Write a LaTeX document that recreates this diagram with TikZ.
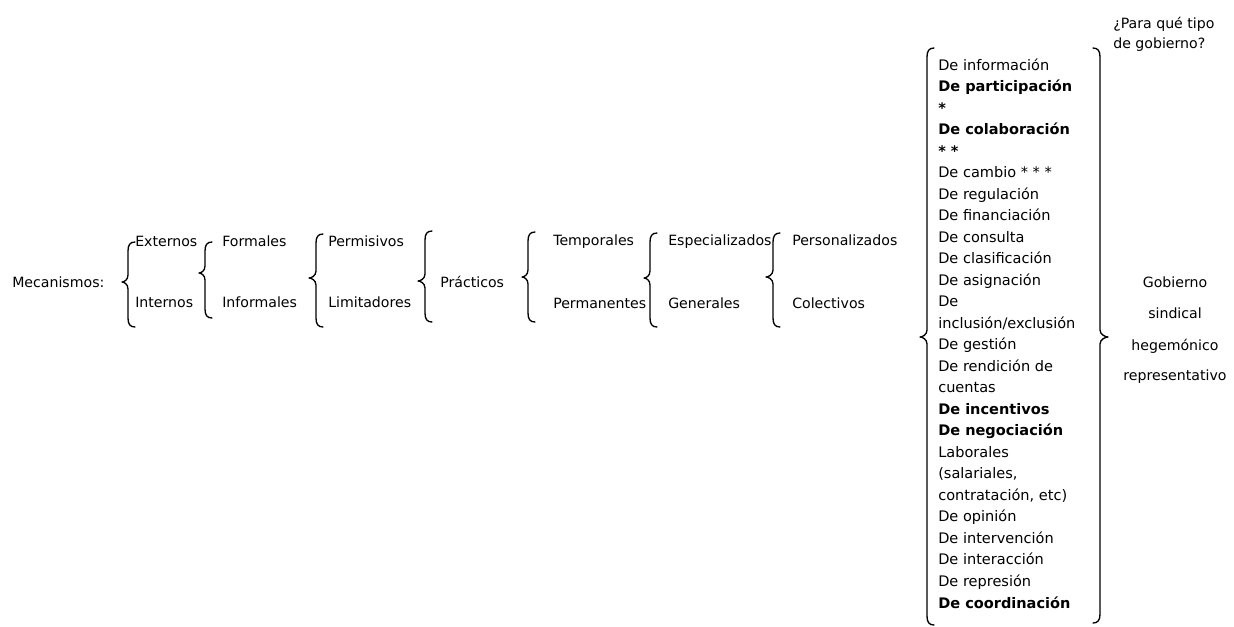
\documentclass[tikz,border=0pt]{standalone}
\usepackage{fontspec}
\setmainfont{DejaVu Sans}
\newcommand\lbrc[5]{% L, T, M, B, tipx
  \draw[brc] (#1+7,#2) .. controls (#1+2,#2) and (#1,#2+3) .. (#1,#2+9) -- (#1,#3-7)
    .. controls (#1,#3-2) and (#5+2,#3) .. (#5,#3)
    .. controls (#5+2,#3) and (#1,#3+2) .. (#1,#3+7) -- (#1,#4-9)
    .. controls (#1,#4-3) and (#1+2,#4) .. (#1+7,#4);}
\newcommand\rbrc[5]{% L, T, M, B, tipx
  \draw[brc] (#1-7,#2) .. controls (#1-2,#2) and (#1,#2+3) .. (#1,#2+9) -- (#1,#3-7)
    .. controls (#1,#3-2) and (#5-2,#3) .. (#5,#3)
    .. controls (#5-2,#3) and (#1,#3+2) .. (#1,#3+7) -- (#1,#4-9)
    .. controls (#1,#4-3) and (#1-2,#4) .. (#1-7,#4);}
\begin{document}
\begin{tikzpicture}[x=0.75pt,y=-0.75pt,
  lbl/.style={anchor=base west, inner sep=0pt, font=\fontsize{10.6}{13}\selectfont},
  lst/.style={anchor=base west, inner sep=0pt, font=\fontsize{10.9}{13}\selectfont},
  cbl/.style={anchor=base, inner sep=0pt, font=\fontsize{10.6}{13}\selectfont},
  brc/.style={line width=1pt, line cap=round, line join=round}]
\useasboundingbox[fill=white] (0,0) rectangle (1234,626);
% column texts
\node[lbl] (mec) at (12,287) {Mecanismos:};
\node[lbl] (ext) at (135,246) {Externos};
\node[lbl] (int) at (135,307) {Internos};
\node[lbl] (for) at (222,246) {Formales};
\node[lbl] (inf) at (222,307) {Informales};
\node[lbl] (per) at (328,246) {Permisivos};
\node[lbl] (lim) at (328,307) {Limitadores};
\node[lbl] (pra) at (440,287) {Prácticos};
\node[lbl] (tem) at (553,245) {Temporales};
\node[lbl] (prm) at (553,308) {Permanentes};
\node[lbl] (esp) at (668,245) {Especializados};
\node[lbl] (gen) at (668,308) {Generales};
\node[lbl] (pes) at (792,245) {Personalizados};
\node[lbl] (col) at (792,308) {Colectivos};
% braces
\lbrc{128}{242}{282}{327}{122}
\lbrc{205}{242}{273}{318}{199}
\lbrc{316}{234}{278}{327}{309}
\lbrc{425}{231}{281}{322}{418}
\lbrc{528}{232}{277}{322}{522}
\lbrc{650}{233}{278}{327}{644}
\lbrc{773}{233}{277}{327}{766}
% big list
\foreach \t [count=\i] in {De información, {\bfseries De participación}, {\bfseries *},
  {\bfseries De colaboración}, {\bfseries * *}, De cambio * * *, De regulación,
  De financiación, De consulta, De clasificación, De asignación, De,
  inclusión/exclusión, De gestión, De rendición de, cuentas,
  {\bfseries De incentivos}, {\bfseries De negociación}, Laborales,
  {(salariales,}, {contratación, etc)}, De opinión, De intervención,
  De interacción, De represión, {\bfseries De coordinación}}
  \node[lst] (l\i) at (938,{70+(\i-1)*21.52}) {\t};
\lbrc{927}{48}{337}{625}{920}
\rbrc{1100}{48}{337}{623}{1108}
% right texts
\node[lbl] (q1) at (1113,28) {¿Para qué tipo};
\node[lbl] (q2) at (1113,48) {de gobierno?};
\node[cbl] (g1) at (1175,287) {Gobierno};
\node[cbl] (g2) at (1175,318) {sindical};
\node[cbl] (g3) at (1175,350) {hegemónico};
\node[cbl] (g4) at (1175,380) {representativo};
\end{tikzpicture}
\end{document}
